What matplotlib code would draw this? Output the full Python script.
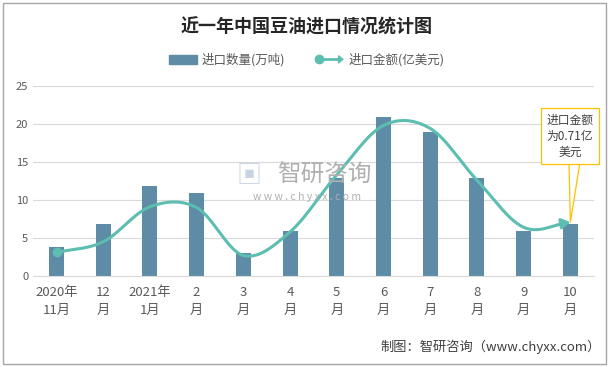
import matplotlib
matplotlib.use("Agg")
import matplotlib.pyplot as plt
import numpy as np
from matplotlib.patches import Rectangle, FancyArrowPatch
from matplotlib.lines import Line2D
from matplotlib.legend_handler import HandlerBase

plt.rcParams['font.family'] = ['Noto Sans CJK SC', 'DejaVu Sans']

months = ["2020年\n11月", "12\n月", "2021年\n1月", "2\n月", "3\n月", "4\n月",
          "5\n月", "6\n月", "7\n月", "8\n月", "9\n月", "10\n月"]
qty = [3.8, 6.8, 11.8, 10.9, 3.0, 5.9, 12.9, 20.9, 18.9, 12.9, 5.9, 6.8]      # 万吨
amount = [0.31, 0.45, 0.91, 0.90, 0.27, 0.58, 1.33, 1.98, 1.94, 1.26, 0.64, 0.71]  # 亿美元

bar_color = '#5e8ca6'
line_color = '#5cbdb1'
grey = '#595959'


def catmull_rom(xs, ys, n=30):
    # smooth curve through the points, like Excel's "smoothed line"
    px = np.concatenate([[2 * xs[0] - xs[1]], xs, [2 * xs[-1] - xs[-2]]])
    py = np.concatenate([[2 * ys[0] - ys[1]], ys, [2 * ys[-1] - ys[-2]]])
    out_x, out_y = [], []
    for i in range(1, len(px) - 2):
        t = np.linspace(0, 1, n, endpoint=False)
        for arr, out in ((px, out_x), (py, out_y)):
            p0, p1, p2, p3 = arr[i - 1], arr[i], arr[i + 1], arr[i + 2]
            out.extend(0.5 * ((2 * p1) + (-p0 + p2) * t
                              + (2 * p0 - 5 * p1 + 4 * p2 - p3) * t ** 2
                              + (-p0 + 3 * p1 - 3 * p2 + p3) * t ** 3))
    out_x.append(xs[-1])
    out_y.append(ys[-1])
    return np.array(out_x), np.array(out_y)


fig = plt.figure(figsize=(6.14, 3.67), dpi=100)
ax = fig.add_axes([0.054, 0.248, 0.913, 0.518])
x = np.arange(len(months))

ax.bar(x, qty, width=0.32, color=bar_color, zorder=2)
ax.set_xlim(-0.5, len(months) - 0.5)
ax.set_ylim(0, 25)
ax.set_yticks([0, 5, 10, 15, 20, 25])
ax.grid(axis='y', color='#d9d9d9', linewidth=0.8, zorder=0)
ax.set_axisbelow(True)
for s in ['left', 'right', 'top']:
    ax.spines[s].set_visible(False)
ax.spines['bottom'].set_color('#d9d9d9')
ax.tick_params(axis='both', length=0, colors=grey, labelsize=8)
ax.set_xticks(x)
ax.set_xticklabels(months, fontsize=9.5, linespacing=1.5)
ax.tick_params(axis='x', pad=7)

ax2 = ax.twinx()
ax2.set_ylim(0, 2.5)
ax2.axis('off')
cx, cy = catmull_rom(x.astype(float), np.array(amount))
ax2.plot(cx[:-4], cy[:-4], color=line_color, linewidth=2.2, solid_capstyle='round', zorder=3)
ax2.annotate('', xy=(cx[-1], cy[-1]), xytext=(cx[-5], cy[-5]),
             arrowprops=dict(arrowstyle='-|>,head_length=0.5,head_width=0.3',
                             color=line_color, lw=2.2, shrinkA=0, shrinkB=0))
ax2.plot(x[0], amount[0], 'o', color=line_color, markersize=6, zorder=4)

# callout on last point
ax2.annotate('进口金额\n为0.71亿\n美元', xy=(x[-1], amount[-1]),
             xytext=(570 / 614, 1 - 136 / 367), textcoords='figure fraction',
             ha='center', va='center', fontsize=8.5, color='#404040', linespacing=1.3,
             bbox=dict(boxstyle='square,pad=0.45', fc='white', ec='#ffc000', lw=0.9),
             arrowprops=dict(arrowstyle='wedge,tail_width=0.9', fc='white', ec='#ffc000',
                             lw=0.9, shrinkA=0, shrinkB=0, relpos=(0.6, 0)),
             zorder=5)

# watermark
fig.text(0.405, 1 - 176 / 367, '▣', fontsize=18, color='#c8d4e4', ha='center', va='center')
fig.text(0.528, 1 - 175 / 367, '智研咨询', fontsize=17, color='#b0b0b0', ha='center', va='center')
fig.text(0.5, 1 - 197 / 367, 'w w w . c h y x x . c o m', fontsize=7.5, color='#b0b0b0',
         ha='center', va='center')

fig.text(0.5, 1 - 27 / 367, '近一年中国豆油进口情况统计图', fontsize=13, fontweight='bold',
         color='#262626', ha='center', va='center')


class LineArrowHandler(HandlerBase):
    def create_artists(self, legend, orig, xd, yd, width, height, fontsize, trans):
        y = yd + height / 2
        ln = Line2D([xd + 2, xd + width - 4], [y, y], color=line_color, lw=2, transform=trans)
        dot = Line2D([xd + 2], [y], marker='o', color=line_color, markersize=6, transform=trans)
        arr = FancyArrowPatch((xd + width - 6, y), (xd + width + 2, y),
                              arrowstyle='-|>,head_length=3,head_width=2.5',
                              color=line_color, transform=trans)
        return [ln, dot, arr]


bar_h = Rectangle((0, 0), 1, 1, color=bar_color)
line_h = Line2D([], [], color=line_color)
fig.legend([bar_h, line_h], ['进口数量(万吨)', '进口金额(亿美元)'],
           handler_map={line_h: LineArrowHandler()},
           loc='center', bbox_to_anchor=(0.5, 1 - 60 / 367), ncol=2, frameon=False,
           fontsize=9, handlelength=2.2, handleheight=0.7, columnspacing=2.5,
           handletextpad=0.4, labelcolor=grey)

fig.text(0.978, 1 - 347 / 367, '制图：智研咨询（www.chyxx.com）', fontsize=9.5,
         color='#404040', ha='right', va='center')

fig.patches.append(Rectangle((3 / 614, 3 / 367), 603 / 614, 361 / 367, transform=fig.transFigure,
                             fill=False, ec='#a6a6a6', lw=1))

fig.savefig('out.png', dpi=100)
